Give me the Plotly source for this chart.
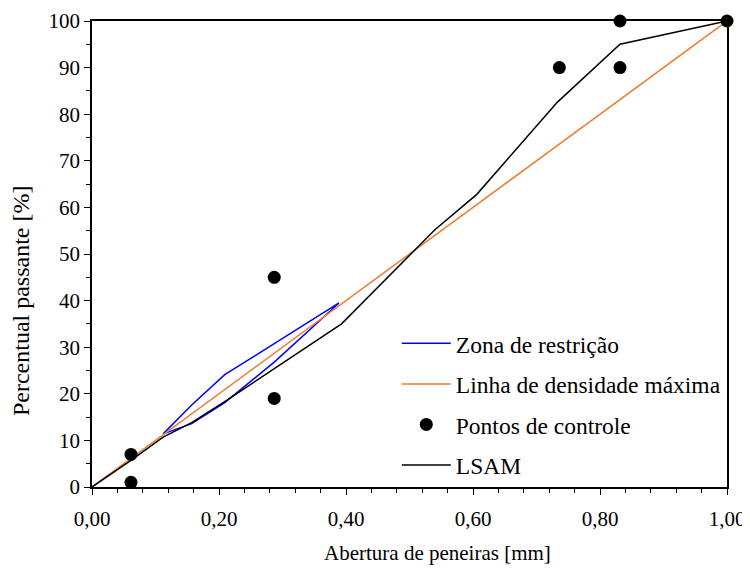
import plotly.graph_objects as go

# Zona de restrição (upper boundary then lower boundary back)
zona_x = [0.112, 0.157, 0.209, 0.287, 0.389, 0.287, 0.209, 0.157, 0.112]
zona_y = [11.4, 17.6, 24.1, 30.8, 39.5, 26.8, 18.1, 13.6, 11.4]

# Linha de densidade máxima
dens_x = [0.0, 1.0]
dens_y = [0.0, 100.0]

# Pontos de controle
ctrl_x = [0.0614, 0.0614, 0.287, 0.287, 0.736, 0.8315, 0.8315, 1.0]
ctrl_y = [7, 1, 45, 19, 90, 90, 100, 100]

# LSAM
lsam_x = [0.0, 0.0614, 0.112, 0.157, 0.209, 0.287, 0.393, 0.540, 0.606, 0.733, 0.8315, 1.0]
lsam_y = [0.0, 5.7, 10.7, 13.8, 18.3, 25.3, 35.0, 55.2, 62.8, 82.6, 95.0, 100.0]

x_tickvals = [0.0, 0.2, 0.4, 0.6, 0.8, 1.0]
x_ticktext = ["0,00", "0,20", "0,40", "0,60", "0,80", "1,00"]
y_tickvals = [0, 10, 20, 30, 40, 50, 60, 70, 80, 90, 100]

x_title = "Abertura de peneiras [mm]"
y_title = "Percentual passante [%]"

FONT = "Liberation Serif"

fig = go.Figure()
fig.add_trace(go.Scatter(x=zona_x, y=zona_y, mode="lines", name="Zona de restrição",
                         line=dict(color="#0000FF", width=1.5), legendgroup="a"))
fig.add_trace(go.Scatter(x=dens_x, y=dens_y, mode="lines", name="Linha de densidade máxima",
                         line=dict(color="#ED7D31", width=1.5), legendgroup="b"))
fig.add_trace(go.Scatter(x=ctrl_x, y=ctrl_y, mode="markers", name="Pontos de controle",
                         marker=dict(color="black", size=13), legendgroup="c", cliponaxis=False))
fig.add_trace(go.Scatter(x=lsam_x, y=lsam_y, mode="lines", name="LSAM",
                         line=dict(color="black", width=1.5), legendgroup="d"))

fig.update_layout(
    width=742, height=561,
    margin=dict(l=84, r=23, t=13, b=82, autoexpand=False),
    paper_bgcolor="white", plot_bgcolor="white",
    font=dict(family=FONT, size=21, color="black"),
    showlegend=True,
    legend=dict(x=0.48, y=0.355, xanchor="left", yanchor="top",
                bgcolor="rgba(0,0,0,0)", font=dict(size=23.5, family=FONT),
                tracegroupgap=7, itemwidth=49),
    xaxis=dict(range=[0, 1], tickvals=x_tickvals, ticktext=x_ticktext,
               showgrid=False, zeroline=False, showline=True, linecolor="black", linewidth=1.5,
               mirror=True, ticks="outside", ticklen=6, tickwidth=1.3, tickcolor="black",
               minor=dict(dtick=0.04, ticks="outside", ticklen=4, tickwidth=1.3, tickcolor="black"),
               ticklabelstandoff=6, tickfont=dict(size=21)),
    yaxis=dict(range=[0, 100], tickvals=y_tickvals,
               showgrid=False, zeroline=False, showline=True, linecolor="black", linewidth=1.5,
               mirror=True, ticks="outside", ticklen=6, tickwidth=1.3, tickcolor="black",
               minor=dict(dtick=5, ticks="outside", ticklen=4, tickwidth=1.3, tickcolor="black"),
               tickfont=dict(size=21)),
    annotations=[
        dict(text=x_title, xref="paper", yref="paper", x=0.544, y=-0.1416,
             xanchor="center", yanchor="middle", showarrow=False, font=dict(size=21)),
        dict(text=y_title, xref="paper", yref="paper", x=-0.1118, y=0.399,
             xanchor="center", yanchor="middle", showarrow=False, textangle=-90,
             font=dict(size=24)),
    ],
)

fig.write_html("out.html")
